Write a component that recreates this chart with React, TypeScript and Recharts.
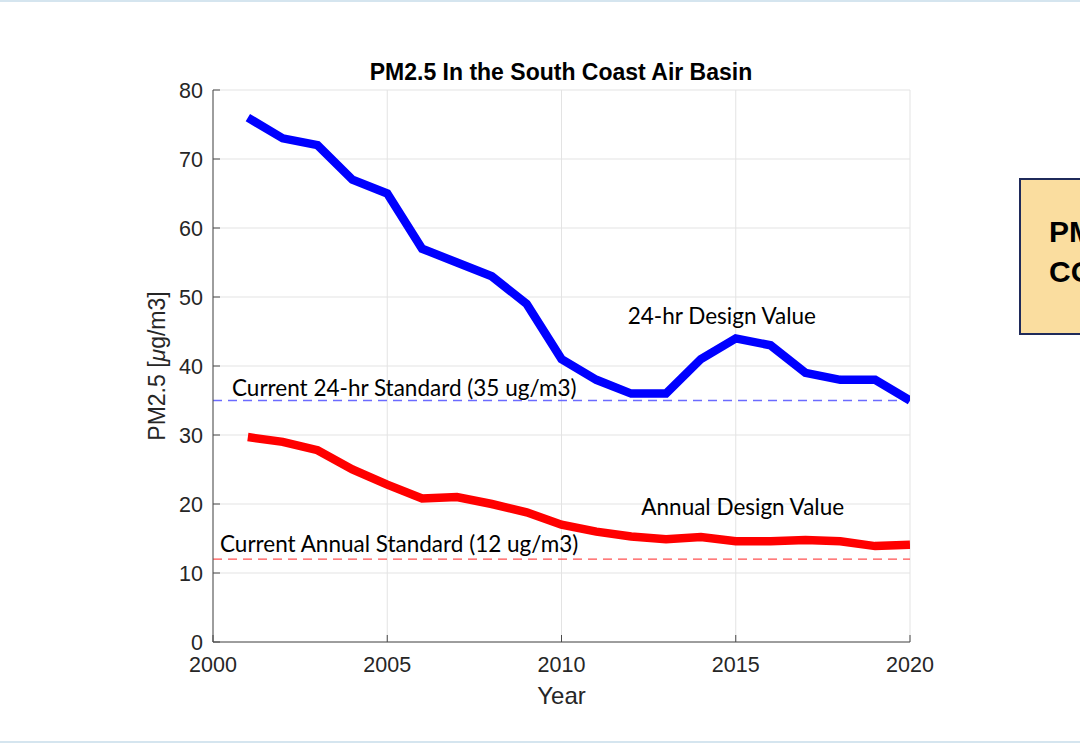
import React from "react";
import {
  LineChart,
  Line,
  XAxis,
  YAxis,
  CartesianGrid,
  ReferenceLine,
  ReferenceDot,
  Label,
} from "recharts";

const years = [
  2001, 2002, 2003, 2004, 2005, 2006, 2007, 2008, 2009, 2010,
  2011, 2012, 2013, 2014, 2015, 2016, 2017, 2018, 2019, 2020,
];
const dv24hr = [76, 73, 72, 67, 65, 57, 55, 53, 49, 41, 38, 36, 36, 41, 44, 43, 39, 38, 38, 35];
const dvAnnual = [
  29.7, 29, 27.8, 25, 22.8, 20.8, 21, 20, 18.8, 17,
  16, 15.3, 14.9, 15.2, 14.6, 14.6, 14.8, 14.6, 13.9, 14.1,
];
const xTicks = [2000, 2005, 2010, 2015, 2020];
const yTicks = [0, 10, 20, 30, 40, 50, 60, 70, 80];
const std24hr = 35;
const stdAnnual = 12;

const data = years.map((year, i) => ({ year, dv24: dv24hr[i], dvAnn: dvAnnual[i] }));

const axisColor = "#4a4a4a";
const sans = "Liberation Sans, Arial, sans-serif";
const tickFont = { fontSize: 21.5, fill: "#262626", fontFamily: sans };
const noteFont = { fontSize: 22.5, fill: "#000", fontFamily: "Lato, sans-serif" };

const YLabel = (props: any) => {
  const { viewBox } = props;
  const cx = 157;
  const cy = viewBox.y + viewBox.height / 2;
  return (
    <text
      x={cx}
      y={cy}
      transform={`rotate(-90, ${cx}, ${cy})`}
      textAnchor="middle"
      dominantBaseline="central"
      fontSize={23}
      fill="#262626"
      fontFamily={sans}
    >
      PM2.5 [<tspan fontStyle="italic">μ</tspan>g/m3]
    </text>
  );
};

export default function App() {
  return (
    <div
      style={{
        position: "absolute",
        left: 0,
        top: 0,
        width: 1080,
        height: 743,
        overflow: "hidden",
        background: "#fff",
      }}
    >
      <div style={{ position: "absolute", left: 0, top: 0, width: 1080, height: 2, background: "#d5e5ef" }} />
      <div style={{ position: "absolute", left: 0, top: 741, width: 1080, height: 2, background: "#d5e5ef" }} />
      <div
        style={{
          position: "absolute",
          left: 1019,
          top: 178,
          width: 120,
          height: 157,
          background: "#fadd9f",
          border: "2px solid #1f2a5a",
          boxSizing: "border-box",
          fontFamily: sans,
          fontWeight: "bold",
          fontSize: 30,
          lineHeight: "40px",
          color: "#000",
          paddingLeft: 28,
          paddingTop: 32,
          whiteSpace: "nowrap",
        }}
      >
        PM2.5
        <br />
        CONC.
      </div>
      <div
        style={{
          position: "absolute",
          left: 0,
          top: 58,
          width: 1122,
          textAlign: "center",
          fontFamily: sans,
          fontWeight: "bold",
          fontSize: 23,
          lineHeight: "28px",
          color: "#000",
        }}
      >
        PM2.5 In the South Coast Air Basin
      </div>
      <div style={{ position: "absolute", left: 0, top: 0 }}>
        <LineChart
          width={1080}
          height={743}
          data={data}
          margin={{ top: 90, right: 170, bottom: 36, left: 143 }}
        >
          <CartesianGrid stroke="#e3e3e3" strokeWidth={1} />
          <XAxis
            dataKey="year"
            type="number"
            domain={[2000, 2020]}
            ticks={xTicks}
            height={65}
            stroke={axisColor}
            tickSize={-7}
            tickMargin={22}
            tick={tickFont}
            allowDataOverflow
          >
            <Label
              value="Year"
              position="insideBottom"
              offset={3}
              style={{ fontSize: 24, fill: "#262626", fontFamily: sans }}
            />
          </XAxis>
          <XAxis
            xAxisId="top"
            dataKey="year"
            type="number"
            orientation="top"
            domain={[2000, 2020]}
            ticks={xTicks}
            height={0}
            stroke={axisColor}
            tickSize={-7}
            tick={() => <g />}
          />
          <YAxis
            type="number"
            domain={[0, 80]}
            ticks={yTicks}
            width={70}
            stroke={axisColor}
            tickSize={-7}
            tickMargin={17}
            tick={tickFont}
            label={<YLabel />}
          />
          <YAxis
            yAxisId="right"
            orientation="right"
            type="number"
            domain={[0, 80]}
            ticks={yTicks}
            width={0}
            stroke={axisColor}
            tickSize={-7}
            tick={() => <g />}
          />
          <ReferenceLine
            y={std24hr}
            stroke="#6b6bff"
            strokeWidth={1.5}
            strokeDasharray="9 6"
            label={{ value: "Current 24-hr Standard (35 ug/m3)", position: "insideBottomLeft", offset: 5, dx: 14, style: noteFont }}
          />
          <ReferenceLine
            y={stdAnnual}
            stroke="#ff5050"
            strokeWidth={1.2}
            strokeDasharray="9 6"
            label={{ value: "Current Annual Standard (12 ug/m3)", position: "insideBottomLeft", offset: 7, style: noteFont }}
          />
          <Line
            dataKey="dv24"
            stroke="#0000ff"
            strokeWidth={8.5}
            dot={false}
            isAnimationActive={false}
            strokeLinejoin="miter"
          />
          <Line
            dataKey="dvAnn"
            stroke="#ff0000"
            strokeWidth={8.5}
            dot={false}
            isAnimationActive={false}
            strokeLinejoin="miter"
          />
          <ReferenceDot
            x={2014.6}
            y={47.2}
            r={0}
            stroke="none"
            label={{ value: "24-hr Design Value", position: "center", style: noteFont }}
          />
          <ReferenceDot
            x={2015.2}
            y={19.6}
            r={0}
            stroke="none"
            label={{ value: "Annual Design Value", position: "center", style: noteFont }}
          />
        </LineChart>
      </div>
    </div>
  );
}
